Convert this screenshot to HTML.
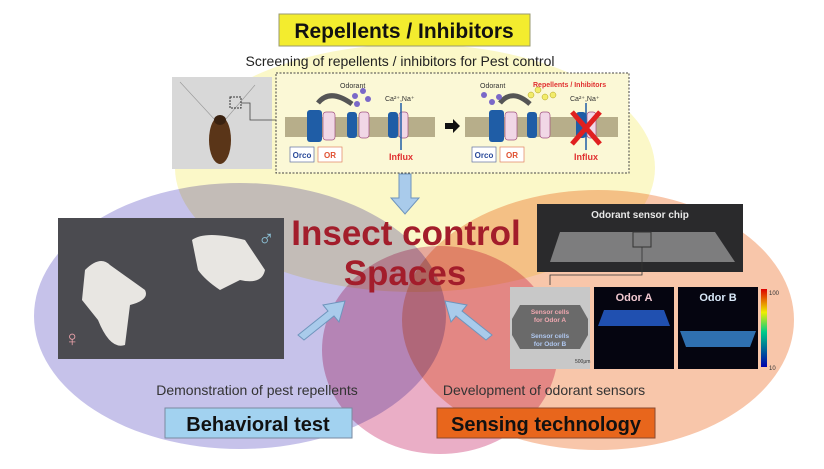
<!DOCTYPE html>
<html><head><meta charset="utf-8"><style>
html,body{margin:0;padding:0;background:#fff}
body{width:824px;height:464px;overflow:hidden;font-family:"Liberation Sans",sans-serif}
</style></head><body>
<svg width="824" height="464" viewBox="0 0 824 464" xmlns="http://www.w3.org/2000/svg" font-family="Liberation Sans, sans-serif">
<!-- ellipses -->
<ellipse cx="415" cy="168" rx="240" ry="124" fill="#fbf8c8" style="mix-blend-mode:multiply"/>
<ellipse cx="240" cy="316" rx="206" ry="133" fill="#c6c2ea" style="mix-blend-mode:multiply"/>
<ellipse cx="598" cy="320" rx="196" ry="130" fill="#f8c6aa" style="mix-blend-mode:multiply"/>
<ellipse cx="440" cy="350" rx="118" ry="104" fill="#eaaec6" style="mix-blend-mode:multiply"/>

<!-- top label -->
<rect x="279" y="14" width="251" height="32" fill="#f3ec2e" stroke="#9a9a70" stroke-width="1"/>
<text x="404" y="38" font-size="21" font-weight="bold" text-anchor="middle" fill="#111">Repellents / Inhibitors</text>
<text x="400" y="66" font-size="14" text-anchor="middle" fill="#222">Screening of repellents / inhibitors for Pest control</text>

<!-- cockroach photo -->
<rect x="172" y="77" width="100" height="92" fill="#d8d8d8"/>
<line x1="180" y1="82" x2="215" y2="120" stroke="#999" stroke-width="0.6"/>
<line x1="255" y1="85" x2="225" y2="120" stroke="#999" stroke-width="0.6"/>
<ellipse cx="220" cy="140" rx="11" ry="24" fill="#5a3518"/>
<ellipse cx="220" cy="120" rx="6" ry="5" fill="#3a2210"/>
<rect x="230" y="97" width="11" height="11" fill="none" stroke="#333" stroke-dasharray="2,1"/>
<polyline points="241,103 250,103 250,120 276,120" fill="none" stroke="#444" stroke-width="0.8"/>

<!-- membrane box -->
<rect x="276" y="73" width="353" height="100" fill="#fbf8d6" stroke="#444" stroke-dasharray="2,1.5"/>
<g>
<rect x="285" y="117" width="150" height="20" fill="#b7ae8a"/>
<rect x="465" y="117" width="153" height="20" fill="#b7ae8a"/>
<g fill="#1f5da6"><rect x="307" y="110" width="15" height="32" rx="3"/><rect x="347" y="112" width="10" height="26" rx="3"/><rect x="388" y="112" width="10" height="26" rx="3"/>
<rect x="489" y="110" width="15" height="32" rx="3"/><rect x="527" y="112" width="10" height="26" rx="3"/><rect x="576" y="112" width="10" height="26" rx="3"/></g>
<g fill="#f1d7e6" stroke="#a05080" stroke-width="0.7"><rect x="323" y="112" width="12" height="28" rx="3"/><rect x="359" y="112" width="10" height="26" rx="3"/><rect x="399" y="112" width="9" height="26" rx="3"/>
<rect x="505" y="112" width="12" height="28" rx="3"/><rect x="540" y="112" width="10" height="26" rx="3"/><rect x="587" y="112" width="9" height="26" rx="3"/></g>
<path d="M318,103 Q330,88 352,104" fill="none" stroke="#555" stroke-width="5"/>
<path d="M500,103 Q512,88 530,104" fill="none" stroke="#555" stroke-width="5"/>
<g fill="#7a68c8"><circle cx="355" cy="96" r="3"/><circle cx="363" cy="91" r="3"/><circle cx="368" cy="99" r="3"/><circle cx="357" cy="104" r="3"/>
<circle cx="484" cy="95" r="3"/><circle cx="492" cy="102" r="3"/><circle cx="499" cy="97" r="3"/></g>
<g fill="#f2ec6a" stroke="#b0a020" stroke-width="0.5"><circle cx="531" cy="95" r="3"/><circle cx="538" cy="90" r="3"/><circle cx="545" cy="97" r="3"/><circle cx="553" cy="95" r="3"/></g>
<text x="340" y="88" font-size="7" fill="#333">Odorant</text>
<text x="480" y="88" font-size="7" fill="#333">Odorant</text>
<text x="533" y="87" font-size="7" fill="#e03030" font-weight="bold">Repellents / Inhibitors</text>
<text x="385" y="101" font-size="7" fill="#333">Ca²⁺,Na⁺</text>
<text x="570" y="101" font-size="7" fill="#333">Ca²⁺,Na⁺</text>
<line x1="401" y1="103" x2="401" y2="150" stroke="#1f5da6" stroke-width="1.5"/>
<line x1="586" y1="103" x2="586" y2="150" stroke="#1f5da6" stroke-width="1.5"/>
<path d="M445,123h8v-4l7,7l-7,7v-4h-8z" fill="#111"/>
<path d="M572,112L600,144M600,112L572,144" stroke="#e02020" stroke-width="5"/>
<rect x="290" y="147" width="24" height="15" fill="#fff" stroke="#6070a0" stroke-width="0.7"/><text x="302" y="158" font-size="8" font-weight="bold" text-anchor="middle" fill="#2a4a9a">Orco</text>
<rect x="318" y="147" width="24" height="15" fill="#fff" stroke="#e08060" stroke-width="0.7"/><text x="330" y="158" font-size="8" font-weight="bold" text-anchor="middle" fill="#e05030">OR</text>
<rect x="472" y="147" width="24" height="15" fill="#fff" stroke="#6070a0" stroke-width="0.7"/><text x="484" y="158" font-size="8" font-weight="bold" text-anchor="middle" fill="#2a4a9a">Orco</text>
<rect x="500" y="147" width="24" height="15" fill="#fff" stroke="#e08060" stroke-width="0.7"/><text x="512" y="158" font-size="8" font-weight="bold" text-anchor="middle" fill="#e05030">OR</text>
<text x="401" y="160" font-size="9" font-weight="bold" text-anchor="middle" fill="#e03030">Influx</text>
<text x="586" y="160" font-size="9" font-weight="bold" text-anchor="middle" fill="#e03030">Influx</text>
</g>

<!-- arrows -->
<path d="M399,174h12v24h8l-14,16l-14,-16h8z" fill="#a9cbeb" stroke="#6f95bd"/>
<path d="M298,335l30,-24l-5,-6l22,-4l-6,21l-5,-6l-30,24z" fill="#a9cbeb" stroke="#6f95bd"/>
<path d="M492,335l-30,-24l5,-6l-22,-4l6,21l5,-6l30,24z" fill="#a9cbeb" stroke="#6f95bd"/>

<!-- center text -->
<text x="406" y="245" font-size="35" font-weight="bold" text-anchor="middle" fill="#a31d2b">Insect control</text>
<text x="405" y="285" font-size="35" font-weight="bold" text-anchor="middle" fill="#a31d2b">Spaces</text>

<!-- moth photo -->
<rect x="58" y="218" width="226" height="141" fill="#4b4b50"/>
<path d="M85,270 Q100,255 110,265 L145,290 Q150,300 130,305 L125,345 Q110,350 98,320 L82,300z" fill="#e8e6e2"/>
<path d="M192,240 Q205,230 245,240 L265,270 Q262,285 240,280 L220,290 Q205,280 198,270z" fill="#e8e6e2"/>
<text x="258" y="246" font-size="22" fill="#8fc6dc">♂</text>
<text x="64" y="346" font-size="22" fill="#e8a0a8">♀</text>

<!-- chip photo -->
<rect x="537" y="204" width="206" height="68" fill="#2a2a2c"/>
<path d="M560,232 L715,232 L735,262 L550,262z" fill="#9a9a9a" opacity="0.75"/>
<text x="640" y="218" font-size="10" font-weight="bold" text-anchor="middle" fill="#e8e8e8">Odorant sensor chip</text>
<rect x="633" y="232" width="18" height="15" fill="none" stroke="#333"/>
<polyline points="642,247 642,275 550,275 550,285" fill="none" stroke="#333" stroke-width="0.8"/>

<!-- sensor images -->
<rect x="510" y="287" width="80" height="82" fill="#c8c8c8"/>
<path d="M520,305h60l8,14v16l-8,14h-60l-8,-14v-16z" fill="#6a6a6a"/>
<text x="550" y="314" font-size="6.5" font-weight="bold" text-anchor="middle" fill="#f0a8b0">Sensor cells</text>
<text x="550" y="322" font-size="6.5" font-weight="bold" text-anchor="middle" fill="#f0a8b0">for Odor A</text>
<text x="550" y="338" font-size="6.5" font-weight="bold" text-anchor="middle" fill="#b0c8f0">Sensor cells</text>
<text x="550" y="346" font-size="6.5" font-weight="bold" text-anchor="middle" fill="#b0c8f0">for Odor B</text>
<text x="575" y="363" font-size="5" fill="#333">500μm</text>
<rect x="594" y="287" width="80" height="82" fill="#050510"/>
<path d="M604,310h60l6,16h-72z" fill="#2050b0"/>
<text x="634" y="301" font-size="11" font-weight="bold" text-anchor="middle" fill="#f0c8d0">Odor A</text>
<rect x="678" y="287" width="80" height="82" fill="#050510"/>
<path d="M680,331h76l-6,16h-64z" fill="#2f70b0"/>
<text x="718" y="301" font-size="11" font-weight="bold" text-anchor="middle" fill="#d8e8f8">Odor B</text>
<defs><linearGradient id="cb" x1="0" y1="0" x2="0" y2="1"><stop offset="0" stop-color="#d00"/><stop offset="0.3" stop-color="#ee0"/><stop offset="0.55" stop-color="#0c8"/><stop offset="1" stop-color="#00a"/></linearGradient></defs>
<rect x="761" y="289" width="6" height="78" fill="url(#cb)"/>
<text x="769" y="295" font-size="6" fill="#333">100</text>
<text x="769" y="370" font-size="6" fill="#333">10</text>

<!-- bottom labels -->
<text x="257" y="395" font-size="14" text-anchor="middle" fill="#333">Demonstration of pest repellents</text>
<text x="544" y="395" font-size="14" text-anchor="middle" fill="#333">Development of odorant sensors</text>
<rect x="165" y="408" width="187" height="30" fill="#a2d2f0" stroke="#7a8aa0"/>
<text x="258" y="431" font-size="20" font-weight="bold" text-anchor="middle" fill="#111">Behavioral test</text>
<rect x="437" y="408" width="218" height="30" fill="#e8661c" stroke="#8a4a30"/>
<text x="546" y="431" font-size="20" font-weight="bold" text-anchor="middle" fill="#111">Sensing technology</text>
</svg>
</body></html>
